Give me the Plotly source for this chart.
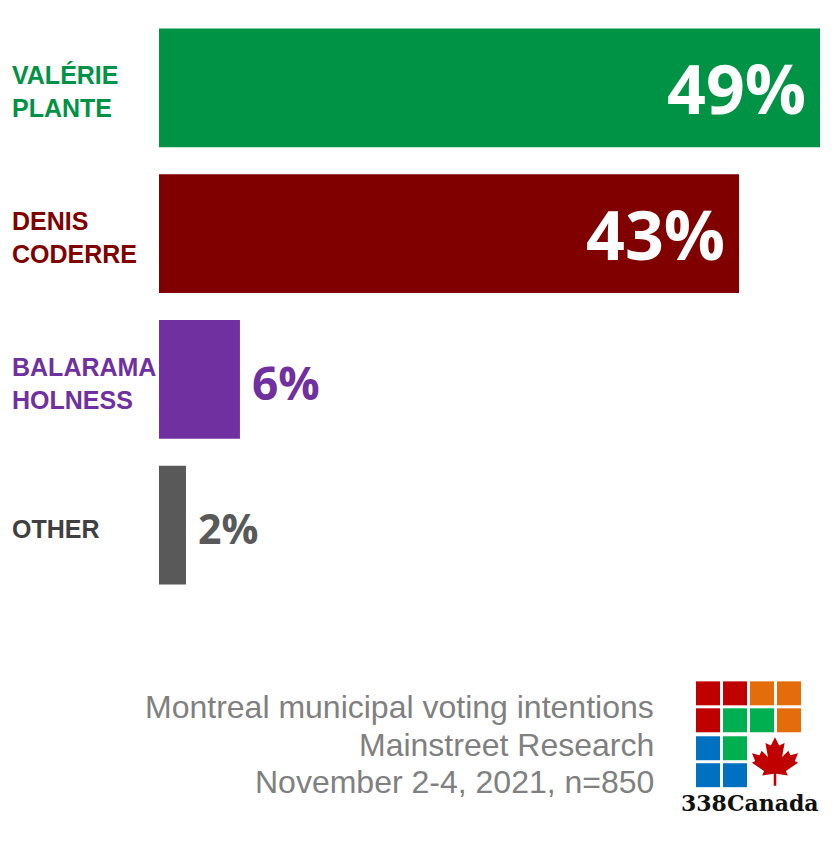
import plotly.graph_objects as go

# ---- data ----
candidates = ["VALÉRIE<br>PLANTE", "DENIS<br>CODERRE", "BALARAMA<br>HOLNESS", "OTHER"]
values = [49, 43, 6, 2]
value_labels = ["49%", "43%", "6%", "2%"]
footer_lines = ["Montreal municipal voting intentions", "Mainstreet Research", "November 2-4, 2021, n=850"]
logo_text = "338Canada"

# ---- styles ----
bar_colors = ["#009245", "#800000", "#7030A0", "#595959"]
label_colors = ["#009245", "#800000", "#7030A0", "#404040"]
value_font_sizes = [68, 68, 46, 41]

OFF = 8  # page body margin
W, H = 816, 830
ML, MR, MT = 151, 4, 6.5
PW = W - ML - MR
PH = 584
MB = H - MT - PH


def px(x):
    return (x - OFF - ML) / PW


def py(y):
    return (MT + PH - (y - OFF)) / PH


fig = go.Figure()
fig.add_trace(go.Bar(
    x=values, y=candidates, orientation="h",
    marker=dict(color=bar_colors, line=dict(width=0)),
    hoverinfo="skip",
))

annotations = []
for cat, v, lab, col, lcol, fs in zip(candidates, values, value_labels, bar_colors, label_colors, value_font_sizes):
    annotations.append(dict(
        x=px(10), xref="paper", y=cat, yref="y", xanchor="left", yanchor="middle",
        text=cat, showarrow=False, align="left", yshift=-4,
        font=dict(family="Liberation Sans, Arial", size=25, color=lcol, weight="bold"),
    ))
    inside = v >= 20
    annotations.append(dict(
        x=v, xref="x", y=cat, yref="y",
        xanchor="right" if inside else "left", yanchor="middle",
        xshift=-12 if inside else 10, yshift=0 if inside else -3,
        text=lab, showarrow=False,
        font=dict(family="Open Sans", size=fs, color="white" if inside else col, weight="bold"),
    ))

for line, yc in zip(footer_lines, [708, 746, 783]):
    annotations.append(dict(
        x=px(656), xref="paper", y=py(yc), yref="paper", xanchor="right", yanchor="middle",
        text=line, showarrow=False, align="right",
        font=dict(family="Liberation Sans, Arial", size=32, color="#808080"),
    ))
annotations.append(dict(
    x=px(750), xref="paper", y=py(804), yref="paper", xanchor="center", yanchor="middle",
    text="<b>" + logo_text + "</b>", showarrow=False,
    font=dict(family="DejaVu Serif", size=22, color="#111111"),
))

# ---- logo squares ----
red, orange, green, blue = "#C00000", "#E46C0A", "#00B050", "#0070C0"
grid = [
    [red, red, orange, orange],
    [red, green, green, orange],
    [blue, green, None, None],
    [blue, blue, None, None],
]
col_x = [696, 723, 750, 777]
row_y = [682, 709, 737, 764]
shapes = []
for r, row in enumerate(grid):
    for c, colr in enumerate(row):
        if colr is None:
            continue
        shapes.append(dict(
            type="rect", xref="paper", yref="paper",
            x0=px(col_x[c]), x1=px(col_x[c] + 24),
            y0=py(row_y[r] + 24), y1=py(row_y[r]),
            fillcolor=colr, line=dict(width=0),
        ))

leaf = [
    (0.0, 1.0), (0.13, 0.74), (0.30, 0.82), (0.22, 0.38), (0.42, 0.58),
    (0.48, 0.44), (0.72, 0.50), (0.62, 0.26), (0.72, 0.20), (0.34, -0.06),
    (0.40, -0.20), (0.04, -0.14), (0.04, -0.52), (-0.04, -0.52), (-0.04, -0.14),
    (-0.40, -0.20), (-0.34, -0.06), (-0.72, 0.20), (-0.62, 0.26), (-0.72, 0.50),
    (-0.48, 0.44), (-0.42, 0.58), (-0.22, 0.38), (-0.30, 0.82), (-0.13, 0.74),
]
cx, cy, s = 775, 770, 32
path = "M " + " L ".join(f"{px(cx + s * a):.5f},{py(cy - s * b):.5f}" for a, b in leaf) + " Z"
shapes.append(dict(type="path", xref="paper", yref="paper", path=path,
                   fillcolor=red, line=dict(width=0)))

fig.update_layout(
    width=W, height=H,
    margin=dict(l=ML, r=MR, t=MT, b=MB, pad=0),
    paper_bgcolor="white", plot_bgcolor="white",
    showlegend=False, bargap=0.185,
    xaxis=dict(range=[0, 49], visible=False, fixedrange=True),
    yaxis=dict(autorange="reversed", visible=False, fixedrange=True),
    annotations=annotations, shapes=shapes,
)

fig.write_html("out.html")
